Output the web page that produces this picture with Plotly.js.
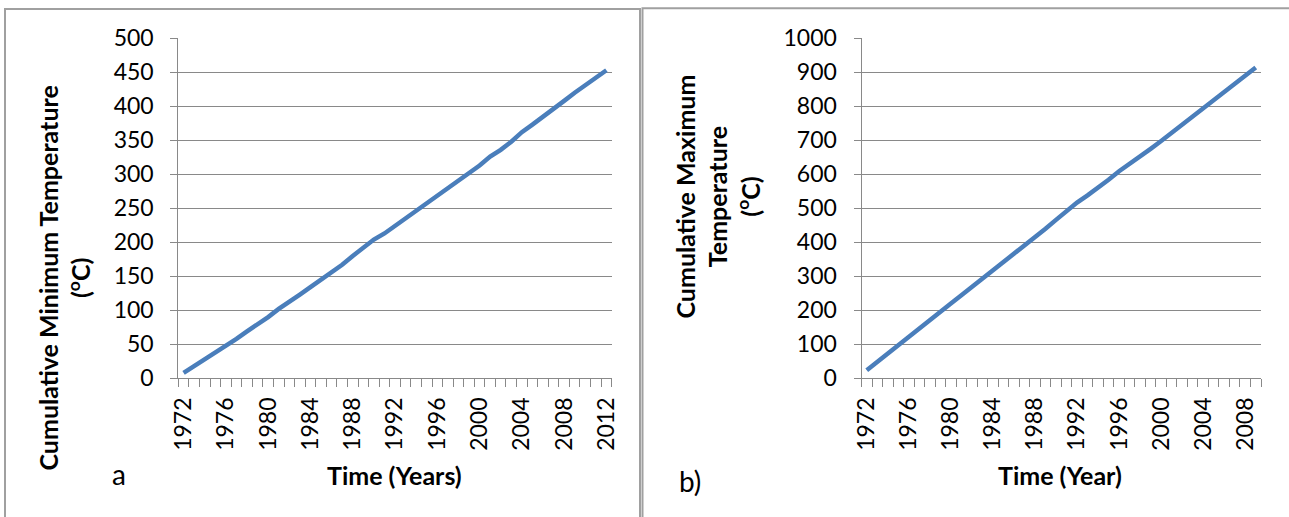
<!DOCTYPE html>
<html>
<head>
<meta charset="utf-8">
<script src="https://cdn.plot.ly/plotly-3.0.1.min.js"></script>
<style>
  html, body { margin: 0; padding: 0; background: #ffffff; }
  #chart { width: 1289px; height: 517px; }
</style>
</head>
<body>
<div id="chart"></div>
<script>
// ---- Data ----
const yearsMin = [1972,1973,1974,1975,1976,1977,1978,1979,1980,1981,1982,1983,1984,1985,1986,1987,1988,1989,1990,1991,1992,1993,1994,1995,1996,1997,1998,1999,2000,2001,2002,2003,2004,2005,2006,2007,2008,2009,2010,2011,2012];
const cumMinTemp = [8,18,28,37,47,58,69,79,90,102,112,123,134,145,155,167,180,193,204,213,224,237,248,259,270,280,290,301,313,326,336,348,362,373,384,396,408,420,431,442,453];

const yearsMax = [1972,1973,1974,1975,1976,1977,1978,1979,1980,1981,1982,1983,1984,1985,1986,1987,1988,1989,1990,1991,1992,1993,1994,1995,1996,1997,1998,1999,2000,2001,2002,2003,2004,2005,2006,2007,2008,2009];
const cumMaxTemp = [24,49,73,99,124,148,174,196,220,244,268,293,317,342,366,390,414,440,466,492,517,538,560,584,609,630,652,675,698,722,746,772,798,822,845,868,891,914];

const tickYearsMin = [1972,1976,1980,1984,1988,1992,1996,2000,2004,2008,2012];
const tickYearsMax = [1972,1976,1980,1984,1988,1992,1996,2000,2004,2008];

const titleMinY = "Cumulative Minimum Temperature<br>(<sup>o</sup>C)";
const titleMaxY = "Cumulative Maximum<br>Temperature<br>(<sup>o</sup>C)";
const titleMinX = "Time (Years)";
const titleMaxX = "Time (Year)";
const panelLabels = ["a", "b)"];

// ---- Layout helpers ----
const W = 1289, H = 517;
const px = v => v / W;
const py = v => 1 - v / H;

const FONT = "Lato, 'Open Sans', sans-serif";
const GRID = "#898989";
const LINE = "#4a7ebb";

function xAxis(years, ticks, domain) {
  return {
    domain: domain,
    range: [years[0] - 0.5, years[years.length - 1] + 0.5],
    tickmode: "array",
    tickvals: ticks,
    ticktext: ticks.map(String),
    tickangle: -90,
    ticks: "outside",
    ticklen: 9,
    tickcolor: "rgba(0,0,0,0)",
    tickfont: { family: FONT, size: 23, color: "#000" },
    showgrid: false,
    zeroline: false,
    showline: true,
    linecolor: GRID,
    linewidth: 1,
    minor: {
      ticks: "outside",
      tick0: years[0] - 0.5,
      dtick: 1,
      ticklen: 8,
      tickwidth: 1,
      tickcolor: GRID,
      showgrid: false
    },
    fixedrange: true
  };
}

function yAxis(max, dtick, anchor) {
  return {
    domain: [py(378.3), py(38.3)],
    anchor: anchor,
    range: [0, max],
    tickmode: "linear",
    tick0: 0,
    dtick: dtick,
    ticks: "outside",
    ticklen: 7,
    tickcolor: GRID,
    tickwidth: 1,
    tickfont: { family: FONT, size: 23, color: "#000" },
    ticklabelstandoff: 12,
    showgrid: true,
    gridcolor: GRID,
    gridwidth: 1,
    zeroline: false,
    showline: true,
    linecolor: GRID,
    linewidth: 1,
    fixedrange: true
  };
}

const traces = [
  { x: yearsMin, y: cumMinTemp, xaxis: "x", yaxis: "y", type: "scatter", mode: "lines",
    line: { color: LINE, width: 4.5 }, hoverinfo: "x+y" },
  { x: yearsMax, y: cumMaxTemp, xaxis: "x2", yaxis: "y2", type: "scatter", mode: "lines",
    line: { color: LINE, width: 4.5 }, hoverinfo: "x+y" }
];

const titleFont = { family: FONT, size: 25, color: "#000", weight: "bold" };

const layout = {
  width: W, height: H,
  margin: { l: 0, r: 0, t: 0, b: 0 },
  paper_bgcolor: "#ffffff",
  plot_bgcolor: "#ffffff",
  showlegend: false,
  xaxis: Object.assign(xAxis(yearsMin, tickYearsMin, [px(178.3), px(611.7)]), { anchor: "y" }),
  yaxis: yAxis(500, 50, "x"),
  xaxis2: Object.assign(xAxis(yearsMax, tickYearsMax, [px(861.5), px(1261)]), { anchor: "y2" }),
  yaxis2: yAxis(1000, 100, "x2"),
  shapes: [
    { type: "rect", xref: "paper", yref: "paper", x0: px(5), x1: px(640), y0: -0.2, y1: py(9),
      line: { color: "#a0a0a0", width: 2 }, fillcolor: "rgba(0,0,0,0)", layer: "below" },
    { type: "rect", xref: "paper", yref: "paper", x0: px(642.5), x1: 1.2, y0: -0.2, y1: py(8.2),
      line: { color: "#a0a0a0", width: 2 }, fillcolor: "rgba(0,0,0,0)", layer: "below" }
  ],
  annotations: [
    { text: titleMinY, xref: "paper", yref: "paper", x: px(63.5), y: py(278),
      xanchor: "center", yanchor: "middle", textangle: -90, showarrow: false, font: titleFont },
    { text: titleMaxY, xref: "paper", yref: "paper", x: px(717.5), y: py(197),
      xanchor: "center", yanchor: "middle", textangle: -90, showarrow: false, font: titleFont },
    { text: titleMinX, xref: "paper", yref: "paper", x: px(394), y: py(475),
      xanchor: "center", yanchor: "middle", showarrow: false, font: titleFont },
    { text: titleMaxX, xref: "paper", yref: "paper", x: px(1060), y: py(475),
      xanchor: "center", yanchor: "middle", showarrow: false, font: titleFont },
    { text: panelLabels[0], xref: "paper", yref: "paper", x: px(118.5), y: py(474),
      xanchor: "center", yanchor: "middle", showarrow: false,
      font: { family: FONT, size: 28, color: "#000" } },
    { text: panelLabels[1], xref: "paper", yref: "paper", x: px(690), y: py(481),
      xanchor: "center", yanchor: "middle", showarrow: false,
      font: { family: FONT, size: 28, color: "#000" } }
  ]
};

Plotly.newPlot("chart", traces, layout, { staticPlot: true, displayModeBar: false });
</script>
</body>
</html>
